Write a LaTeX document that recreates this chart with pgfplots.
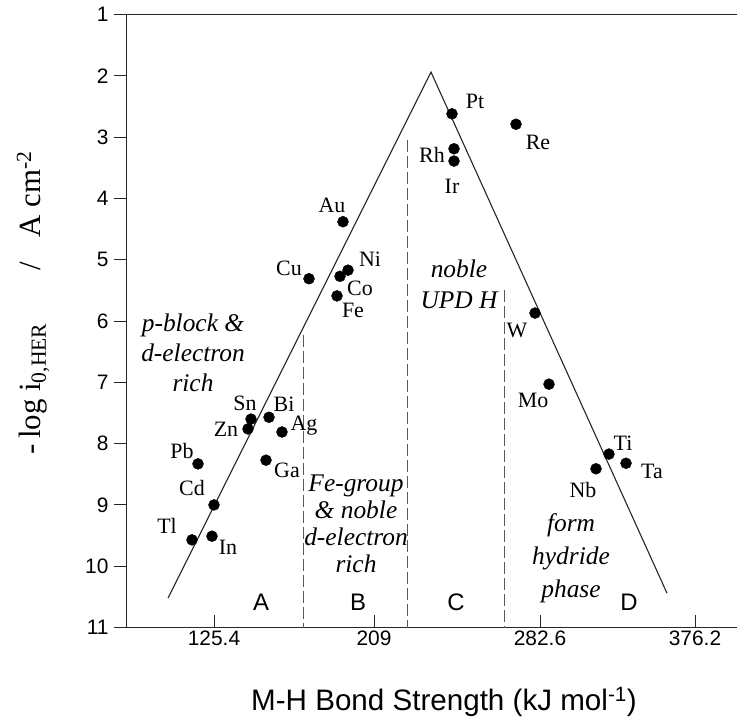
\documentclass[border=0pt]{standalone}
\usepackage{pgfplots}
\pgfplotsset{compat=1.18}
\usepackage{fontspec}
\setmainfont{Liberation Serif}
\newfontfamily\sans{Liberation Sans}

% x is the horizontal position along the printed axis (ticks are not linear in kJ/mol)
\pgfplotstableread{
x    y
251  7.60
248  7.76
269  7.57
282  7.81
198  8.33
266  8.27
214  9.00
192  9.57
212  9.51
343  4.38
309  5.31
348  5.17
340  5.27
337  5.59
452  2.62
516  2.79
454  3.19
454  3.39
535  5.87
549  7.03
609  8.17
626  8.32
596  8.41
}\metals

\begin{document}
\begin{tikzpicture}
\begin{axis}[
  scale only axis,
  width=610bp, height=613bp,
  xmin=127, xmax=737,
  ymin=1, ymax=11,
  y dir=reverse,
  axis x line*=box,
  axis y line*=left,
  xtick={214,374,540,695},
  xticklabels={125.4,209,282.6,376.2},
  ytick={1,2,...,11},
  xtick pos=left,
  xtick align=inside,
  ytick align=outside,
  major tick length=13bp,
  tick style={black!85, line width=0.9bp},
  axis line style={black!85, line width=1bp},
  /pgf/number format/assume math mode=true,
  ticklabel style={font=\sans\fontsize{21}{22}\selectfont},
  yticklabel style={xshift=-2bp},
  xlabel={M-H Bond Strength (kJ mol\textsuperscript{-1})},
  xlabel style={at={(axis description cs:0.5197,-0.1215)}, anchor=center,
    font=\sans\fontsize{29.7}{31}\selectfont},
  ylabel={-\,log i\textsubscript{0,HER}\hspace{1.7em}/\hspace{0.8em}A cm\textsuperscript{-2}},
  ylabel style={at={(axis description cs:-0.154,0.530)}, anchor=center,
    font=\fontsize{31}{33}\selectfont},
  clip=false,
]

% volcano
\addplot[black!85, line width=1.1bp] coordinates {(168,10.52) (431,1.94) (667,10.44)};

% region boundaries
\addplot[black!65, line width=0.9bp, dash pattern=on 12bp off 4bp] coordinates {(303,6.22) (303,11)};
\addplot[black!65, line width=0.9bp, dash pattern=on 12bp off 4bp] coordinates {(407,3.05) (407,11)};
\addplot[black!65, line width=0.9bp, dash pattern=on 12bp off 4bp] coordinates {(504,5.50) (504,11)};

\addplot[only marks, mark=*, mark size=5.5bp, black] table {\metals};

% element labels
\begin{scope}[every node/.style={font=\fontsize{22}{23}\selectfont, inner sep=0pt}]
\node at (axis cs:245,7.35) {Sn};
\node at (axis cs:226,7.76) {Zn};
\node at (axis cs:284,7.35) {Bi};
\node at (axis cs:304,7.71) {Ag};
\node at (axis cs:182,8.12) {Pb};
\node at (axis cs:287,8.43) {Ga};
\node at (axis cs:192,8.72) {Cd};
\node at (axis cs:167,9.34) {Tl};
\node at (axis cs:228,9.69) {In};
\node at (axis cs:332,4.11) {Au};
\node at (axis cs:289,5.14) {Cu};
\node at (axis cs:370,5.00) {Ni};
\node at (axis cs:360,5.46) {Co};
\node at (axis cs:353,5.82) {Fe};
\node at (axis cs:475,2.41) {Pt};
\node at (axis cs:538,3.08) {Re};
\node at (axis cs:432,3.29) {Rh};
\node at (axis cs:452,3.81) {Ir};
\node at (axis cs:517,6.15) {W};
\node at (axis cs:533,7.29) {Mo};
\node at (axis cs:623,7.99) {Ti};
\node at (axis cs:652,8.46) {Ta};
\node at (axis cs:583,8.76) {Nb};
\end{scope}

% region descriptions
\node[align=center, font=\itshape\fontsize{25.5}{30.5}\selectfont] at (axis cs:193,6.52)
  {p-block \&\\d-electron\\rich};
\node[align=center, font=\itshape\fontsize{25.5}{27.3}\selectfont] at (axis cs:356,9.31)
  {Fe-group\\\& noble\\d-electron\\rich};
\node[align=center, font=\itshape\fontsize{25.5}{32}\selectfont] at (axis cs:459,5.40)
  {noble\\UPD H};
\node[align=center, font=\itshape\fontsize{25.5}{33}\selectfont] at (axis cs:571,9.87)
  {form\\hydride\\phase};

% region letters
\begin{scope}[every node/.style={font=\sans\fontsize{24}{24}\selectfont}]
\node at (axis cs:261,10.58) {A};
\node at (axis cs:358,10.58) {B};
\node at (axis cs:456,10.58) {C};
\node at (axis cs:629,10.58) {D};
\end{scope}

\coordinate (bl) at (axis cs:0,12.525);
\coordinate (tr) at (axis cs:737,0.763);
\end{axis}
\pgfresetboundingbox
\path (bl) rectangle (tr);
\end{tikzpicture}
\end{document}
